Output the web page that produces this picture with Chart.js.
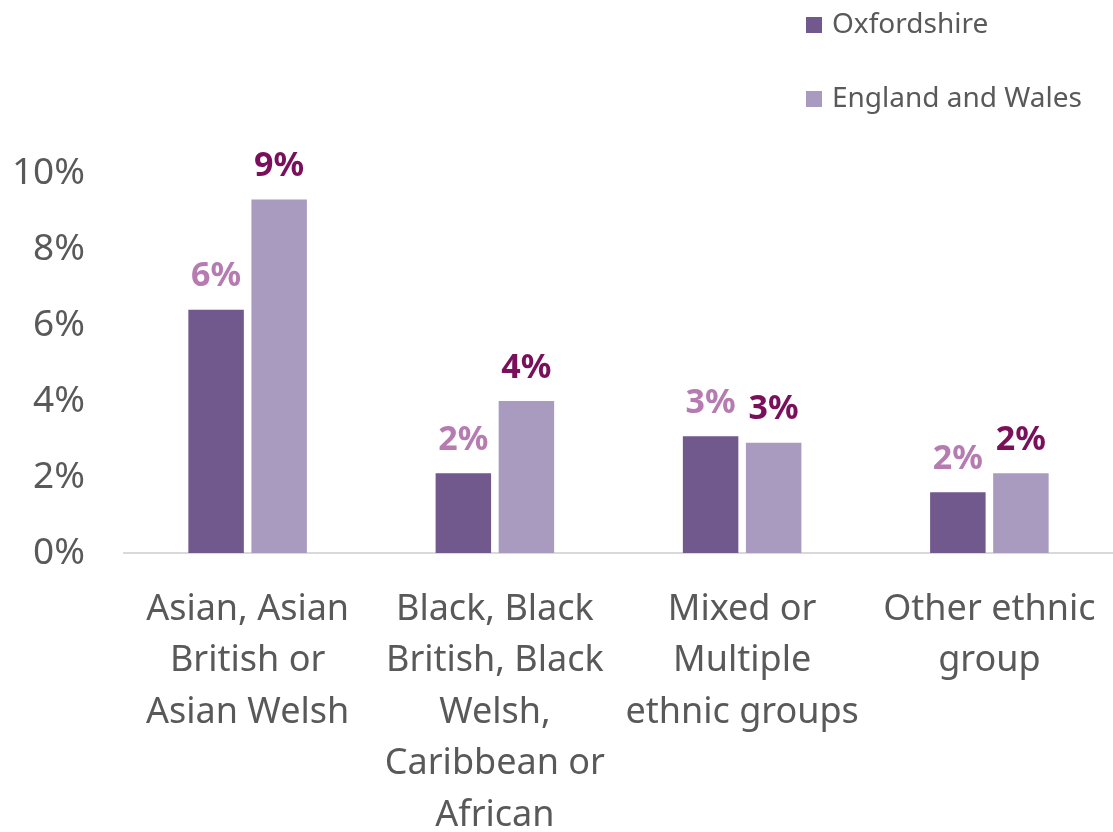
<!DOCTYPE html>
<html>
<head>
<meta charset="utf-8">
<script src="https://cdn.jsdelivr.net/npm/chart.js@4"></script>
<style>
  html, body { margin: 0; padding: 0; background: #fff; }
  #wrap { width: 1113px; height: 832px; }
</style>
</head>
<body>
<div id="wrap"><canvas id="chart1"></canvas></div>
<script>
var categories = [
	["Asian, Asian", "British or", "Asian Welsh"],
	["Black, Black", "British, Black", "Welsh,", "Caribbean or", "African"],
	["Mixed or", "Multiple", "ethnic groups"],
	["Other ethnic", "group"]
];
var oxfordshire = [6.4, 2.1, 3.07, 1.6];
var englandWales = [9.3, 4.0, 2.9, 2.1];
var yTicks = [0, 2, 4, 6, 8, 10];

var FONT = "'Noto Sans', sans-serif";

// value labels above each bar
var barLabels = {
	id: "barLabels",
	afterDatasetsDraw: function (chart) {
		var c = chart.ctx;
		c.save();
		c.font = "bold 34px " + FONT;
		c.textAlign = "center";
		c.textBaseline = "bottom";
		chart.data.datasets.forEach(function (ds, i) {
			var meta = chart.getDatasetMeta(i);
			c.fillStyle = ds.labelColor;
			meta.data.forEach(function (bar, j) {
				c.fillText(Math.round(ds.data[j]) + "%", bar.x, bar.y - 16);
			});
		});
		c.restore();
	}
};

// legend stacked at top right
var stackedLegend = {
	id: "stackedLegend",
	afterDraw: function (chart) {
		var c = chart.ctx;
		c.save();
		c.font = "28px " + FONT;
		c.textBaseline = "middle";
		chart.data.datasets.forEach(function (ds, i) {
			var y = 25 + i * 74;
			c.fillStyle = ds.backgroundColor;
			c.fillRect(806, y - 8, 16, 16);
			c.fillStyle = "#595959";
			c.fillText(ds.label, 832, y);
		});
		c.restore();
	}
};

var ctx = document.getElementById("chart1").getContext("2d");
new Chart(ctx, {
	type: "bar",
	data: {
		labels: categories,
		datasets: [
			{
				label: "Oxfordshire",
				data: oxfordshire,
				backgroundColor: "#71588d",
				labelColor: "#b67bb0",
				barPercentage: 0.88,
				categoryPercentage: 0.51
			},
			{
				label: "England and Wales",
				data: englandWales,
				backgroundColor: "#a99bbf",
				labelColor: "#7a0f5b",
				barPercentage: 0.88,
				categoryPercentage: 0.51
			}
		]
	},
	options: {
		responsive: true,
		maintainAspectRatio: false,
		animation: false,
		layout: { padding: { top: 173, left: 10, right: -6, bottom: 0 } },
		plugins: {
			legend: { display: false },
			tooltip: { enabled: false }
		},
		scales: {
			x: {
				afterFit: function (axis) {
					axis.height = 279;
					axis.paddingLeft = 0;
					axis.paddingRight = 0;
				},
				grid: { display: false, drawTicks: false },
				border: { display: true, color: "#d9d9d9", width: 2 },
				ticks: {
					color: "#595959",
					font: { family: FONT, size: 36, lineHeight: 1.43 },
					padding: 31,
					maxRotation: 0,
					autoSkip: false
				}
			},
			y: {
				min: 0,
				max: 10,
				afterFit: function (axis) { axis.width = 114; },
				afterBuildTicks: function (axis) {
					axis.ticks = yTicks.map(function (v) { return { value: v }; });
				},
				grid: { display: false, drawTicks: false },
				border: { display: false },
				ticks: {
					color: "#595959",
					font: { family: FONT, size: 37 },
					padding: 39,
					callback: function (v) { return v + "%"; }
				}
			}
		}
	},
	plugins: [barLabels, stackedLegend]
});
</script>
</body>
</html>
